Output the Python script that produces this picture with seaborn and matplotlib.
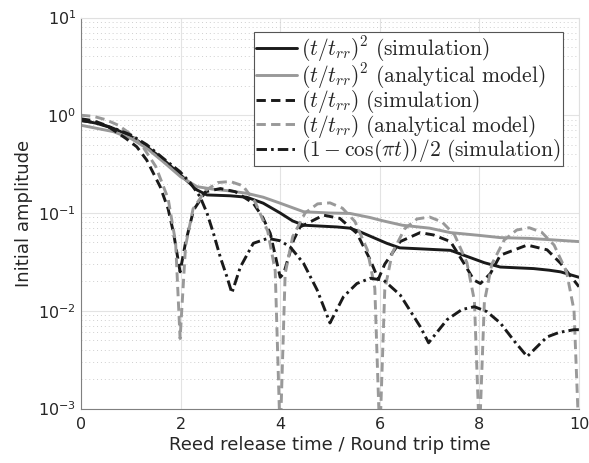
import numpy as np
import pandas as pd
import matplotlib
matplotlib.use("Agg")
import matplotlib.pyplot as plt
import seaborn as sns
from matplotlib.ticker import LogLocator, FixedLocator

# (t/trr)^2 simulation
t_sq_sim = [0, 0.3, 0.65, 1.0, 1.32, 1.65, 2.0, 2.33, 2.53, 3.0, 3.33, 3.66, 4.0, 4.25, 4.47,
            5.14, 5.4, 5.61, 6.14, 6.4, 6.81, 7.42, 7.75, 8.1, 8.42, 9.09, 9.4, 9.63, 10.0]
a_sq_sim = [0.89, 0.83, 0.735, 0.61, 0.477, 0.354, 0.245, 0.172, 0.153, 0.15, 0.145, 0.126, 0.1, 0.083, 0.075,
            0.072, 0.07, 0.064, 0.049, 0.044, 0.043, 0.0415, 0.036, 0.031, 0.028, 0.027, 0.026, 0.025, 0.022]

# (t/trr)^2 analytical model
t_sq_ana = [0, 0.65, 1.0, 1.32, 1.65, 2.0, 2.33, 2.66, 3.0, 3.33, 3.66, 4.0, 4.47, 5.0, 5.4,
            5.8, 6.07, 6.45, 7.0, 7.42, 8.0, 8.42, 9.0, 9.5, 10.0]
a_sq_ana = [0.79, 0.68, 0.58, 0.46, 0.335, 0.235, 0.186, 0.175, 0.168, 0.159, 0.145, 0.126, 0.103, 0.1, 0.099,
            0.09, 0.083, 0.075, 0.07, 0.063, 0.059, 0.056, 0.055, 0.053, 0.051]

# (t/trr) simulation
t_lin_sim = [0, 0.25, 0.5, 0.65, 0.9, 1.12, 1.32, 1.59, 1.75, 1.86, 1.99, 2.1, 2.26, 2.5, 2.8, 3.1,
             3.46, 3.65, 3.8, 4.0, 4.07, 4.27, 4.4, 4.87, 5.2, 5.54, 5.81, 5.97, 6.1, 6.41, 6.81,
             7.08, 7.42, 7.69, 7.89, 8.02, 8.22, 8.42, 8.96, 9.36, 9.63, 10.0]
a_lin_sim = [0.92, 0.88, 0.79, 0.706, 0.58, 0.476, 0.348, 0.186, 0.11, 0.062, 0.025, 0.05, 0.107, 0.165, 0.178, 0.165,
             0.126, 0.09, 0.062, 0.022, 0.024, 0.053, 0.072, 0.095, 0.088, 0.062, 0.033, 0.021, 0.03, 0.051, 0.063,
             0.0596, 0.051, 0.0306, 0.0206, 0.019, 0.024, 0.037, 0.047, 0.042, 0.0306, 0.0176]

# (t/trr) analytical model
t_lin_ana = [0, 0.25, 0.5, 0.75, 1.0, 1.25, 1.5, 1.75, 1.9, 1.99, 2.1, 2.25, 2.5, 2.75, 3.0, 3.25,
             3.5, 3.75, 3.9, 4.0, 4.1, 4.25, 4.5, 4.75, 5.0, 5.25, 5.5, 5.75, 5.9, 6.0, 6.1, 6.25,
             6.5, 6.75, 7.0, 7.25, 7.5, 7.75, 7.9, 8.0, 8.1, 8.25, 8.5, 8.75, 9.0, 9.25, 9.5, 9.75, 9.9, 10.0]
a_lin_ana = [1.0, 0.975, 0.9, 0.79, 0.64, 0.47, 0.3, 0.14, 0.05, 0.0052, 0.046, 0.11, 0.17, 0.205, 0.21, 0.19,
             0.129, 0.065, 0.0256, 0.0005, 0.024, 0.057, 0.1, 0.124, 0.127, 0.112, 0.082, 0.042, 0.017, 0.0005, 0.0164, 0.039,
             0.069, 0.087, 0.091, 0.081, 0.06, 0.031, 0.0127, 0.0005, 0.0123, 0.03, 0.053, 0.067, 0.0707, 0.0636, 0.047, 0.025, 0.0101, 0.0005]

# (1 - cos(pi t))/2 simulation
t_cos_sim = [0, 0.3, 0.65, 1.0, 1.32, 1.65, 1.99, 2.19, 2.39, 2.53, 2.66, 2.8, 2.93, 3.03, 3.2, 3.46,
             3.75, 4.0, 4.2, 4.47, 4.74, 5.0, 5.27, 5.54, 5.81, 6.08, 6.41, 6.81, 6.98, 7.35, 7.65,
             7.9, 8.15, 8.42, 8.7, 8.96, 9.2, 9.36, 9.6, 9.9, 10.0]
a_cos_sim = [0.88, 0.84, 0.74, 0.63, 0.5, 0.363, 0.264, 0.205, 0.147, 0.1, 0.062, 0.035, 0.0223, 0.0152, 0.028, 0.049,
             0.055, 0.052, 0.045, 0.0305, 0.0164, 0.0075, 0.0139, 0.019, 0.0215, 0.0205, 0.0145, 0.0069, 0.0047, 0.0081, 0.0103,
             0.011, 0.0098, 0.0075, 0.0049, 0.0034, 0.0045, 0.0054, 0.006, 0.0064, 0.0064]

labels = [r'$(t/t_{rr})^2\ \mathrm{(simulation)}$',
          r'$(t/t_{rr})^2\ \mathrm{(analytical\ model)}$',
          r'$(t/t_{rr})\ \mathrm{(simulation)}$',
          r'$(t/t_{rr})\ \mathrm{(analytical\ model)}$',
          r'$(1-\cos(\pi t))/2\ \mathrm{(simulation)}$']

sns.set_style("white")
plt.rcParams['mathtext.fontset'] = 'cm'
plt.rcParams['font.family'] = ['DejaVu Sans']

black = '#1a1a1a'
gray = '#999999'

fig = plt.figure(figsize=(5.89, 4.63), dpi=100)
ax = fig.add_axes([0.1375, 0.1177, 0.8455, 0.8445])

dash = (3.2, 1.8)
dashdot = (3.6, 1.4, 0.9, 1.4)
series = [
    (t_sq_sim, a_sq_sim, black, None),
    (t_sq_ana, a_sq_ana, gray, None),
    (t_lin_sim, a_lin_sim, black, dash),
    (t_lin_ana, a_lin_ana, gray, dash),
    (t_cos_sim, a_cos_sim, black, dashdot),
]
for (t, a, c, ds), lab in zip(series, labels):
    df = pd.DataFrame({'t': t, 'a': a})
    kw = {} if ds is None else {'dashes': ds}
    sns.lineplot(data=df, x='t', y='a', ax=ax, color=c,
                 linewidth=2.1, label=lab, sort=False, **kw)

ax.set_yscale('log')
ax.set_xlim(0, 10)
ax.set_ylim(1e-3, 1e1)
ax.xaxis.set_major_locator(FixedLocator([0, 2, 4, 6, 8, 10]))
ax.yaxis.set_major_locator(LogLocator(base=10, numticks=10))
ax.yaxis.set_minor_locator(LogLocator(base=10, subs=np.arange(2, 10), numticks=10))

ax.grid(True, which='major', axis='both', color='#e3e3e3', linewidth=0.8, linestyle='-')
ax.grid(True, which='minor', axis='y', color='#cfcfcf', linewidth=0.7, linestyle=(0, (1, 3)))
ax.set_axisbelow(True)

ax.tick_params(axis='both', which='major', direction='in', length=3, labelsize=11.5,
               colors='#404040', labelcolor='#262626', width=0.6)
ax.tick_params(axis='y', which='minor', direction='in', length=2, colors='#606060', width=0.5)
ax.tick_params(axis='x', which='major', pad=6)

for side in ['left', 'bottom']:
    ax.spines[side].set_color('#808080')
    ax.spines[side].set_linewidth(0.8)
for side in ['top', 'right']:
    ax.spines[side].set_color('#e0e0e0')
    ax.spines[side].set_linewidth(0.8)

ax.set_xlabel('Reed release time / Round trip time', fontsize=13, color='#262626', labelpad=3)
ax.set_ylabel('Initial amplitude', fontsize=13, color='#262626', labelpad=4)

leg = ax.legend(loc='upper right', bbox_to_anchor=(0.968, 0.963), fontsize=15.5,
                handlelength=1.9, handletextpad=0.2, borderpad=0.1, labelspacing=-0.12,
                frameon=True, fancybox=False, borderaxespad=0.0)
leg.get_frame().set_edgecolor('#555555')
leg.get_frame().set_linewidth(0.8)
leg.get_frame().set_alpha(1)

fig.savefig('out.png', dpi=100)
